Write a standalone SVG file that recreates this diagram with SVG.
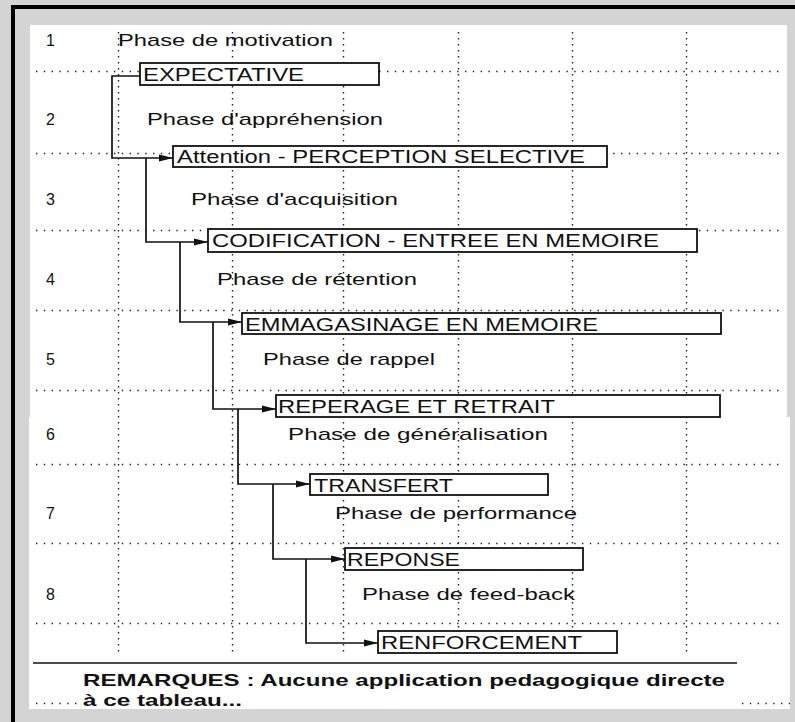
<svg xmlns="http://www.w3.org/2000/svg" width="795" height="722" viewBox="0 0 795 722">
<style>
.t{font-family:"Liberation Sans",Arial,sans-serif;font-size:17px;fill:#111}
.bt{font-family:"Liberation Sans",Arial,sans-serif;font-size:18px;fill:#111}
.n{font-family:"Liberation Sans",Arial,sans-serif;font-size:16px;fill:#111}
.r{font-family:"Liberation Sans",Arial,sans-serif;font-size:16.5px;font-weight:bold;fill:#111}
.h{stroke:#222;stroke-width:1.4;stroke-dasharray:1.4 6.4;fill:none}
.v{stroke:#222;stroke-width:1.4;stroke-dasharray:1.4 4.6;fill:none}
.box{fill:#fff;stroke:#111;stroke-width:1.8}
.c{fill:none;stroke:#111;stroke-width:1.7}
</style>
<defs>
<marker id="ah" markerWidth="14" markerHeight="9" refX="14" refY="4.5" orient="auto" markerUnits="userSpaceOnUse">
<path d="M0,1 L14,4.5 L0,8 z" fill="#111"/>
</marker>
</defs>
<rect x="0" y="0" width="795" height="722" fill="#d4d4d4"/>
<rect x="11" y="5" width="784" height="4" fill="#000"/>
<rect x="11" y="5" width="4" height="717" fill="#000"/>
<rect x="30" y="25" width="757" height="393" fill="#fff"/>
<rect x="29" y="417" width="761" height="292" fill="#fff"/>

<g id="grid">
<path class="h" d="M36,71.5H780 M36,153.5H780 M36,230.5H780 M36,310.5H780 M36,390.5H780 M36,464.5H780 M36,543.5H780 M36,623.5H780"/>
<path class="v" d="M118.5,32V656 M232.5,32V656 M343.5,32V656 M458.5,32V656 M572.5,32V656 M686.5,32V656"/>
<path class="h" d="M36,703.5H78 M742,703.5H790"/>
</g>

<g id="rows">
<text class="n" x="46" y="46">1</text>
<text class="n" x="46" y="125">2</text>
<text class="n" x="46" y="205">3</text>
<text class="n" x="46" y="285">4</text>
<text class="n" x="46" y="365">5</text>
<text class="n" x="46" y="440">6</text>
<text class="n" x="46" y="519">7</text>
<text class="n" x="46" y="600">8</text>
</g>

<g id="phases">
<text class="t" x="118" y="46" textLength="215" lengthAdjust="spacingAndGlyphs">Phase de motivation</text>
<text class="t" x="147" y="125" textLength="236" lengthAdjust="spacingAndGlyphs">Phase d'appréhension</text>
<text class="t" x="191" y="205" textLength="207" lengthAdjust="spacingAndGlyphs">Phase d'acquisition</text>
<text class="t" x="217" y="285" textLength="200" lengthAdjust="spacingAndGlyphs">Phase de rétention</text>
<text class="t" x="263" y="365" textLength="172" lengthAdjust="spacingAndGlyphs">Phase de rappel</text>
<text class="t" x="288" y="440" textLength="260" lengthAdjust="spacingAndGlyphs">Phase de généralisation</text>
<text class="t" x="335" y="519" textLength="242" lengthAdjust="spacingAndGlyphs">Phase de performance</text>
<text class="t" x="362" y="600" textLength="213" lengthAdjust="spacingAndGlyphs">Phase de feed-back</text>
</g>

<g id="connectors">
<path class="c" d="M140,76H112V158H173" marker-end="url(#ah)"/>
<path class="c" d="M146,158V242H208" marker-end="url(#ah)"/>
<path class="c" d="M180,242V322H242" marker-end="url(#ah)"/>
<path class="c" d="M213,322V409H276" marker-end="url(#ah)"/>
<path class="c" d="M238,409V484H310" marker-end="url(#ah)"/>
<path class="c" d="M273,484V559H345" marker-end="url(#ah)"/>
<path class="c" d="M306,559V643H378" marker-end="url(#ah)"/>
</g>

<g id="expectative">
<rect class="box" x="140" y="63" width="239" height="22"/>
<text class="bt" x="143" y="81" textLength="161" lengthAdjust="spacingAndGlyphs">EXPECTATIVE</text>
</g>
<g id="attention">
<rect class="box" x="173" y="146" width="434" height="21"/>
<text class="bt" x="177" y="163" textLength="408" lengthAdjust="spacingAndGlyphs">Attention - PERCEPTION SELECTIVE</text>
</g>
<g id="codification">
<rect class="box" x="208" y="229" width="489" height="23"/>
<text class="bt" x="212" y="247" textLength="447" lengthAdjust="spacingAndGlyphs">CODIFICATION - ENTREE EN MEMOIRE</text>
</g>
<g id="emmagasinage">
<rect class="box" x="242" y="313" width="479" height="21"/>
<text class="bt" x="245" y="331" textLength="353" lengthAdjust="spacingAndGlyphs">EMMAGASINAGE EN MEMOIRE</text>
</g>
<g id="reperage">
<rect class="box" x="276" y="395" width="444" height="22"/>
<text class="bt" x="278" y="413" textLength="277" lengthAdjust="spacingAndGlyphs">REPERAGE ET RETRAIT</text>
</g>
<g id="transfert">
<rect class="box" x="310" y="474" width="238" height="21"/>
<text class="bt" x="314" y="492" textLength="139" lengthAdjust="spacingAndGlyphs">TRANSFERT</text>
</g>
<g id="reponse">
<rect class="box" x="345" y="548" width="238" height="22"/>
<text class="bt" x="347" y="566" textLength="113" lengthAdjust="spacingAndGlyphs">REPONSE</text>
</g>
<g id="renforcement">
<rect class="box" x="378" y="631" width="239" height="22"/>
<text class="bt" x="381" y="649" textLength="201" lengthAdjust="spacingAndGlyphs">RENFORCEMENT</text>
</g>

<g id="remarques">
<line x1="33" y1="663" x2="737" y2="663" stroke="#111" stroke-width="1.6"/>
<text class="r" x="83" y="686" textLength="642" lengthAdjust="spacingAndGlyphs">REMARQUES : Aucune application pedagogique directe</text>
<text class="r" x="83" y="706" textLength="159" lengthAdjust="spacingAndGlyphs">à ce tableau...</text>
</g>
</svg>
